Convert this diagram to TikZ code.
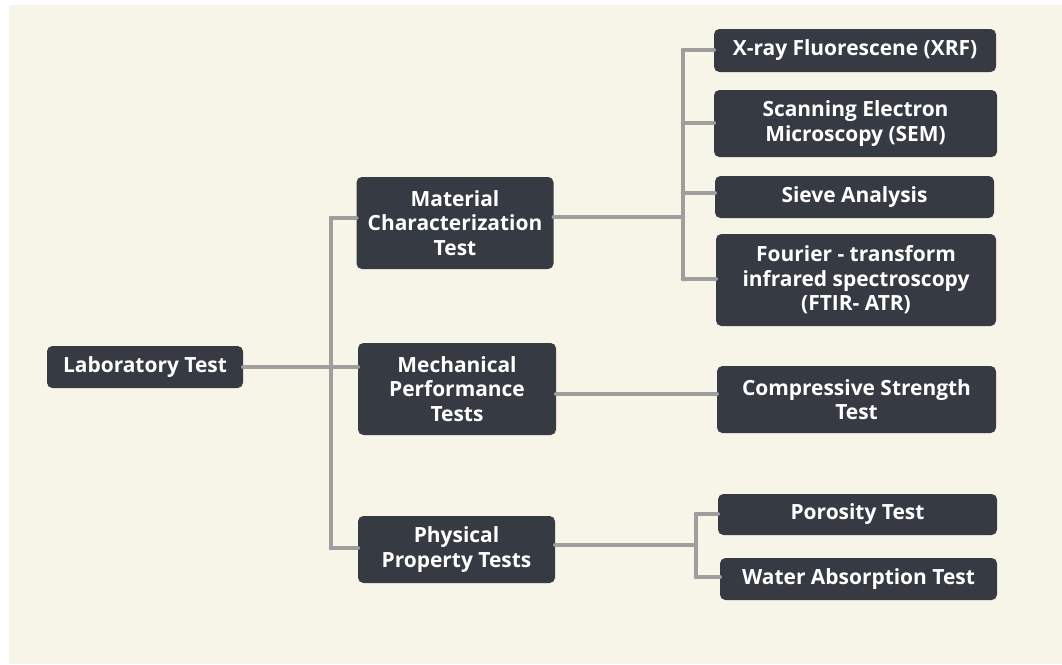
\documentclass[tikz,border=0pt]{standalone}
\usepackage{fontspec}
\usepackage{tikz}
\usepackage{xcolor}
\newfontfamily\boxfont{Open Sans}
\definecolor{cream}{HTML}{F7F4E8}
\definecolor{boxfill}{HTML}{363A43}
\definecolor{linegray}{HTML}{9E9E9E}
\tikzset{
  testbox/.style={rectangle, rounded corners=4pt, fill=boxfill, text=white, align=center, inner sep=0pt,
    font=\boxfont\bfseries\fontsize{15.7}{18.4}\selectfont},
  sz/.style 2 args={minimum width=#1*0.75pt, minimum height=#2*0.75pt},
  link/.style={draw=linegray, line width=3.4pt, line cap=round}
}
\begin{document}
\begin{tikzpicture}[x=0.75pt,y=-0.75pt]
\useasboundingbox (0,0) rectangle (1062,664);
\fill[white] (0,0) rectangle (1062,664);
\fill[cream] (9,5) rectangle (1062,664);
\node[testbox, sz={196}{42}] (lab) at (145,367) {Laboratory Test};
\node[testbox, sz={197}{92}] (mat) at (455,223) {Material\\Characterization\\Test};
\node[testbox, sz={198}{92}] (mech) at (457,389) {Mechanical\\Performance\\Tests};
\node[testbox, sz={197}{67}] (phys) at (456.5,549.5) {Physical\\Property Tests};
\node[testbox, sz={282}{43}] (xrf) at (855,50.5) {X-ray Fluorescene (XRF)};
\node[testbox, sz={283}{67}] (sem) at (855.5,123.5) {Scanning Electron\\Microscopy (SEM)};
\node[testbox, sz={279}{42}] (sieve) at (854.5,197) {Sieve Analysis};
\node[testbox, sz={280}{92}] (ftir) at (856,280) {Fourier - transform\\infrared spectroscopy\\(FTIR- ATR)};
\node[testbox, sz={279}{67}] (comp) at (856.5,399.5) {Compressive Strength\\Test};
\node[testbox, sz={279}{41}] (por) at (857.5,514.5) {Porosity Test};
\node[testbox, sz={277}{42}] (wat) at (858.5,579) {Water Absorption Test};
\coordinate (ta) at (331,218);
\coordinate (tb) at (331,548);
\coordinate (m0) at (683,217);
\coordinate (sa) at (683,50);
\coordinate (sb) at (683,123);
\coordinate (sc) at (683,193);
\coordinate (sd) at (683,279);
\coordinate (mc) at (600,394);
\coordinate (p0) at (696,545);
\coordinate (pa) at (696,514);
\coordinate (pb) at (696,577);
\draw[link] (lab.east) -- (lab.east -| mech.west);
\draw[link] (ta) -- (tb);
\draw[link] (ta) -- (ta -| mat.west);
\draw[link] (tb) -- (tb -| phys.west);
\draw[link] (m0 -| mat.east) -- (m0);
\draw[link] (sa) -- (sd);
\draw[link] (sa) -- (sa -| xrf.west);
\draw[link] (sb) -- (sb -| sem.west);
\draw[link] (sc) -- (sc -| sieve.west);
\draw[link] (sd) -- (sd -| ftir.west);
\draw[link] (mc -| mech.east) -- (mc -| comp.west);
\draw[link] (p0 -| phys.east) -- (p0);
\draw[link] (pa) -- (pb);
\draw[link] (pa) -- (pa -| por.west);
\draw[link] (pb) -- (pb -| wat.west);
\end{tikzpicture}
\end{document}
